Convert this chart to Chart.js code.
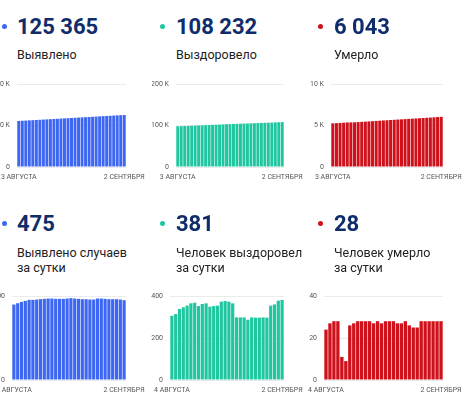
<!DOCTYPE html>
<html>
<head>
<meta charset="utf-8">
<script src="https://cdn.jsdelivr.net/npm/chart.js@4"></script>
<style>
  body { margin: 0; width: 474px; height: 398px; background: #fff; overflow: hidden; position: relative; font-family: Roboto, sans-serif; }
  .dot { position: absolute; width: 5px; height: 5px; border-radius: 50%; }
  .num { position: absolute; font-size: 22px; line-height: 22px; font-weight: bold; color: #0f2c6b; white-space: nowrap; }
  .lbl { position: absolute; font-size: 12.5px; line-height: 15px; color: #222; white-space: nowrap; }
  canvas { position: absolute; }
</style>
</head>
<body>
<script>
// dates
const daysFrom3Aug = ['3 АВГУСТА','4 АВГУСТА','5 АВГУСТА','6 АВГУСТА','7 АВГУСТА','8 АВГУСТА','9 АВГУСТА','10 АВГУСТА',
  '11 АВГУСТА','12 АВГУСТА','13 АВГУСТА','14 АВГУСТА','15 АВГУСТА','16 АВГУСТА','17 АВГУСТА','18 АВГУСТА','19 АВГУСТА',
  '20 АВГУСТА','21 АВГУСТА','22 АВГУСТА','23 АВГУСТА','24 АВГУСТА','25 АВГУСТА','26 АВГУСТА','27 АВГУСТА','28 АВГУСТА',
  '29 АВГУСТА','30 АВГУСТА','31 АВГУСТА','1 СЕНТЯБРЯ','2 СЕНТЯБРЯ'];
const daysFrom4Aug = daysFrom3Aug.slice(1);

// cumulative
const confirmed = [110997,111446,111903,112368,112839,113316,113793,114272,114753,115236,115721,116206,116689,117172,
  117655,118140,118627,119112,119595,120076,120557,121036,121515,122000,122485,122968,123449,123930,124411,124890,125365];
const recovered = [98079,98385,98699,99037,99383,99737,100102,100470,100822,101184,101549,101898,102250,102604,102977,
  103353,103726,104091,104389,104687,104985,105272,105570,105867,106164,106462,106759,107113,107473,107851,108232];
const deaths = [5259,5283,5310,5338,5366,5377,5386,5412,5439,5467,5495,5523,5551,5578,5606,5633,5661,5689,5717,5744,
  5771,5799,5825,5850,5875,5903,5931,5959,5987,6015,6043];

// per day
const confirmedDaily = [449,457,465,471,477,477,479,481,483,485,485,483,483,483,485,487,485,483,481,481,479,479,485,485,
  483,481,481,481,479,475];
const recoveredDaily = [306,314,338,346,354,365,368,352,362,365,349,352,354,373,376,373,365,298,298,298,287,298,297,297,
  298,297,354,360,378,381];
const deathsDaily = [24,27,28,28,11,9,26,27,28,28,28,28,27,28,27,28,28,28,27,27,28,26,25,25,28,28,28,28,28,28];

const headNumbers = ['125 365', '108 232', '6 043', '475', '381', '28'];
const headLabels = ['Выявлено', 'Выздоровело', 'Умерло', 'Выявлено случаев<br>за сутки', 'Человек выздоровел<br>за сутки', 'Человек умерло<br>за сутки'];

const BLUE = '#3d66f2', GREEN = '#1fc6a0', RED = '#cf111c';

const panels = [
  { labels: daysFrom3Aug, data: confirmed, color: BLUE, max: 200000, step: 100000, x: 17, y: 84, w: 109, h: 83 },
  { labels: daysFrom3Aug, data: recovered, color: GREEN, max: 200000, step: 100000, x: 176, y: 84, w: 108, h: 83 },
  { labels: daysFrom3Aug, data: deaths, color: RED, max: 10000, step: 5000, x: 331, y: 84, w: 112, h: 83 },
  { labels: daysFrom4Aug, data: confirmedDaily, color: BLUE, max: 500, step: 500, x: 12, y: 296, w: 114, h: 84 },
  { labels: daysFrom4Aug, data: recoveredDaily, color: GREEN, max: 400, step: 200, x: 170, y: 296, w: 114, h: 84 },
  { labels: daysFrom4Aug, data: deathsDaily, color: RED, max: 40, step: 20, x: 324, y: 296, w: 119, h: 84 },
];

const textX = [17, 176, 334];
const dotX = [4, 162.5, 320.7];

function addHeader(i) {
  const col = i % 3, row = Math.floor(i / 3);
  const dy = row * 197.7;
  const dot = document.createElement('div');
  dot.className = 'dot';
  dot.style.background = panels[i].color;
  dot.style.left = (dotX[col] - 2.5) + 'px';
  dot.style.top = (26.7 + dy - 2.5 + (row ? -1.1 : 0)) + 'px';
  document.body.appendChild(dot);
  const num = document.createElement('div');
  num.className = 'num';
  num.textContent = headNumbers[i];
  num.style.left = textX[col] + 'px';
  num.style.top = (15.5 + dy) + 'px';
  document.body.appendChild(num);
  const lbl = document.createElement('div');
  lbl.className = 'lbl';
  lbl.innerHTML = headLabels[i];
  lbl.style.left = textX[col] + 'px';
  lbl.style.top = (47.2 + dy) + 'px';
  document.body.appendChild(lbl);
}

function fmt(v) {
  return v >= 1000 ? (v / 1000) + ' K' : String(v);
}

function buildChart(p) {
  const padTop = 6, yW = 24, padRight = 26, xH = 20;
  const cv = document.createElement('canvas');
  cv.width = yW + p.w + padRight;
  cv.height = padTop + p.h + xH;
  cv.style.left = (p.x - yW) + 'px';
  cv.style.top = (p.y - padTop) + 'px';
  document.body.appendChild(cv);
  const last = p.labels.length - 1;
  new Chart(cv.getContext('2d'), {
    type: 'bar',
    data: {
      labels: p.labels,
      datasets: [{ data: p.data, backgroundColor: p.color, barPercentage: 0.84, categoryPercentage: 1 }]
    },
    options: {
      responsive: false,
      animation: false,
      layout: { padding: { top: padTop, right: padRight, left: 0, bottom: 0 } },
      plugins: { legend: { display: false }, tooltip: { enabled: false } },
      scales: {
        x: {
          grid: { display: false, drawTicks: false },
          border: { display: false },
          ticks: {
            autoSkip: false, maxRotation: 0, minRotation: 0, padding: 6,
            color: '#555', font: { family: 'Roboto', size: 7 },
            callback: (v, i) => (i === 0 || i === last) ? p.labels[i] : ''
          },
          afterFit: s => { s.height = xH; s.paddingLeft = 0; s.paddingRight = 0; }
        },
        y: {
          min: 0, max: p.max,
          grid: { color: '#ebebeb', drawTicks: false },
          border: { display: false },
          ticks: {
            stepSize: p.step, padding: 7,
            color: '#555', font: { family: 'Roboto', size: 7 },
            callback: v => fmt(v)
          },
          afterFit: s => { s.width = yW; s.paddingTop = 0; s.paddingBottom = 0; }
        }
      }
    }
  });
}

for (let i = 0; i < panels.length; i++) {
  addHeader(i);
  buildChart(panels[i]);
}
</script>
</body>
</html>
